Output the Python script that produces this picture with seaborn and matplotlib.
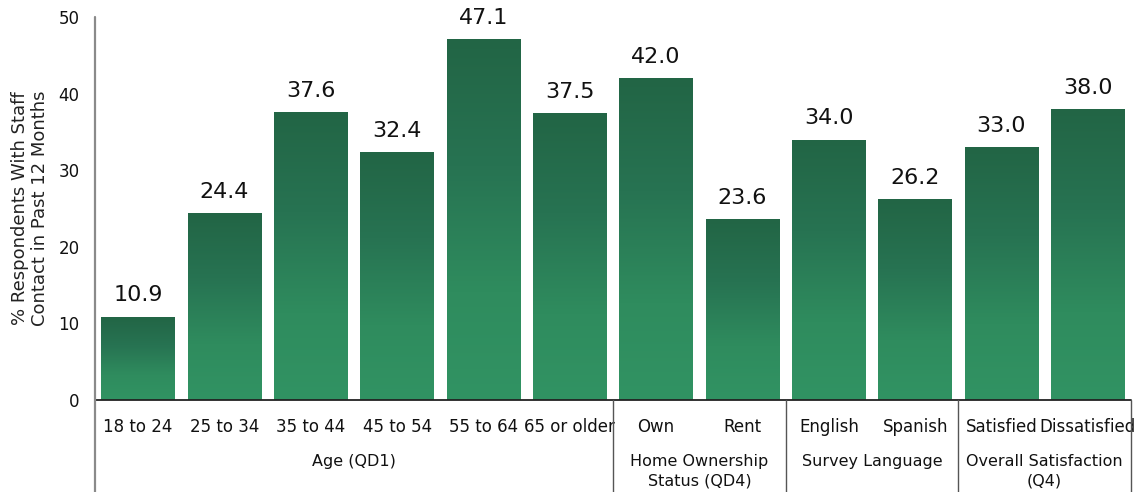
import numpy as np
import pandas as pd
import matplotlib
matplotlib.use("Agg")
import matplotlib.pyplot as plt
import matplotlib.transforms as mtransforms
from matplotlib.colors import LinearSegmentedColormap
import seaborn as sns

# Survey data: share of respondents with staff contact, by subgroup
categories = ["18 to 24", "25 to 34", "35 to 44", "45 to 54", "55 to 64", "65 or older",
              "Own", "Rent", "English", "Spanish", "Satisfied", "Dissatisfied"]
values = [10.9, 24.4, 37.6, 32.4, 47.1, 37.5, 42.0, 23.6, 34.0, 26.2, 33.0, 38.0]
groups = ["Age (QD1)", "Home Ownership\nStatus (QD4)", "Survey Language",
          "Overall Satisfaction\n(Q4)"]
group_sizes = [6, 2, 2, 2]
y_ticks = [0, 10, 20, 30, 40, 50]
y_label = "% Respondents With Staff\nContact in Past 12 Months"

df = pd.DataFrame({"category": categories, "value": values})

sns.set_theme(style="white")
plt.rcParams["font.family"] = ["DejaVu Sans"]

W, H = 1134, 492
fig = plt.figure(figsize=(W / 100, H / 100), dpi=100)
ax = fig.add_axes([95 / W, 92 / H, (1131 - 95) / W, 383 / H])

sns.barplot(data=df, x="category", y="value", order=categories, width=0.85,
            color="#2b7f55", ax=ax)

# vertical gradient fill for each bar: dark green on top, lighter at the base
cmap = LinearSegmentedColormap.from_list(
    "bar_grad", [(0.0, "#319363"), (0.3, "#2f8c5e"), (0.65, "#277352"), (1.0, "#226545")])
grad = np.linspace(0, 1, 256).reshape(-1, 1)
for patch in ax.patches:
    x0, y0 = patch.get_x(), patch.get_y()
    w, h = patch.get_width(), patch.get_height()
    im = ax.imshow(grad, cmap=cmap, origin="lower", aspect="auto",
                   extent=(x0, x0 + w, y0, y0 + h), zorder=2)
    im.set_clip_path(patch)
    patch.set_facecolor("none")
    patch.set_edgecolor("none")

for i, v in enumerate(values):
    ax.annotate(f"{v:.1f}", (i, v), xytext=(0, 8), textcoords="offset points",
                ha="center", va="bottom", fontsize=16, color="#111111")

ax.set_xlim(-0.5, len(categories) - 0.5)
ax.set_ylim(0, 50)
ax.set_yticks(y_ticks)
ax.tick_params(axis="y", length=0, pad=11, labelsize=12, labelcolor="#111111")
ax.tick_params(axis="x", length=0, pad=13, labelsize=12, labelcolor="#111111")
ax.set_xlabel("")
ax.set_ylabel("")
for s in ["top", "right", "left", "bottom"]:
    ax.spines[s].set_visible(False)

trans = mtransforms.blended_transform_factory(ax.transData, ax.transAxes)
bottom = -0.25

# axis lines
ax.plot([-0.5, len(categories) - 0.5], [0, 0], transform=trans, color="#222222",
        lw=1.3, clip_on=False, zorder=3)
ax.plot([-0.5, -0.5], [1.0, bottom], transform=trans, color="#8a8a8a",
        lw=1.6, clip_on=False, zorder=3)

# group separators and group labels
start = 0
edges = [-0.5]
for name, n in zip(groups, group_sizes):
    center = start + (n - 1) / 2
    ax.text(center, -0.14, name, transform=trans, ha="center", va="top",
            fontsize=11.5, color="#111111", linespacing=1.4)
    start += n
    edges.append(start - 0.5)
for e in edges[1:]:
    ax.plot([e, e], [0, bottom], transform=trans, color="#555555", lw=1.0,
            clip_on=False, zorder=3)

fig.text(30 / W, 1 - 208 / H, y_label, rotation=90, ha="center", va="center",
         fontsize=13, color="#222222", linespacing=1.2)

fig.savefig("out.png", dpi=100, facecolor="white")
